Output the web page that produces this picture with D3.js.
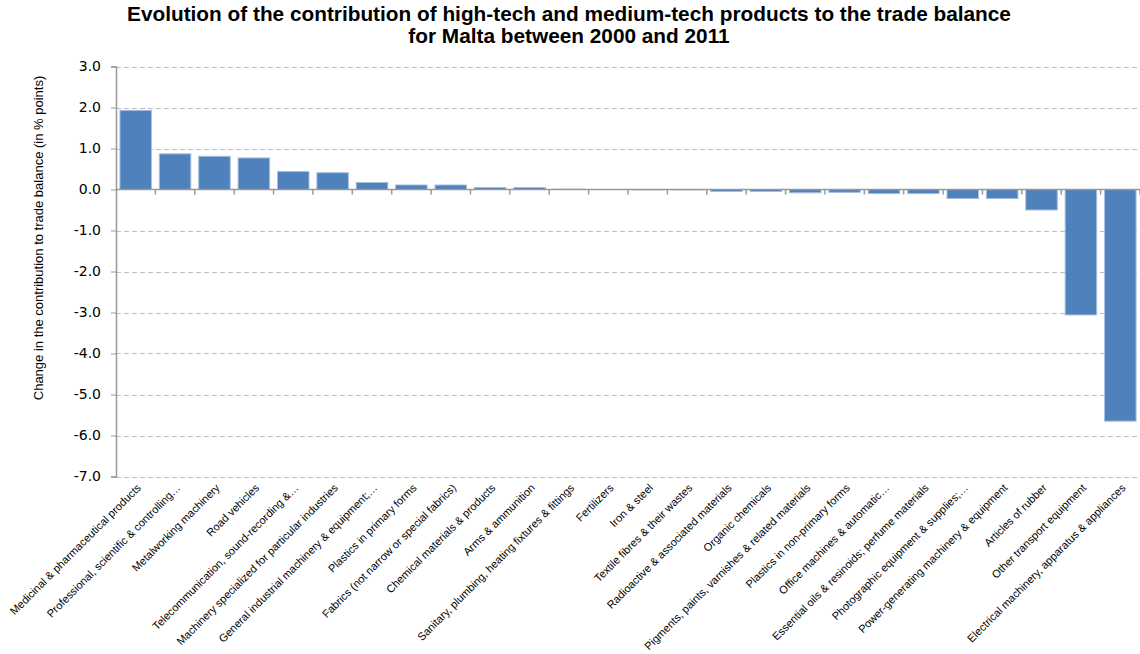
<!DOCTYPE html>
<html>
<head>
<meta charset="utf-8">
<style>
    body { margin: 0; background: #fff; }
    svg { display: block; }
</style>
</head>
<body>
<svg width="1140" height="654"></svg>

<script src="https://d3js.org/d3.v7.min.js"></script>
<script>
    // categories, in the order shown (sorted by value)
    let categories = [
        "Medicinal & pharmaceutical products",
        "Professional, scientific & controlling\u2026",
        "Metalworking machinery",
        "Road vehicles",
        "Telecommunication, sound-recording &\u2026",
        "Machinery specialized for particular industries",
        "General industrial machinery & equipment;\u2026",
        "Plastics in primary forms",
        "Fabrics (not narrow or special fabrics)",
        "Chemical materials & products",
        "Arms & ammunition",
        "Sanitary, plumbing, heating fixtures & fittings",
        "Fertilizers",
        "Iron & steel",
        "Textile fibres & their wastes",
        "Radioactive & associated materials",
        "Organic chemicals",
        "Pigments, paints, varnishes & related materials",
        "Plastics in non-primary forms",
        "Office machines & automatic\u2026",
        "Essential oils & resinoids; perfume materials",
        "Photographic equipment & supplies;\u2026",
        "Power-generating machinery & equipment",
        "Articles of rubber",
        "Other transport equipment",
        "Electrical machinery, apparatus & appliances"
    ];

    // change in contribution to trade balance (% points)
    let values = [1.93, 0.87, 0.81, 0.77, 0.44, 0.41, 0.17, 0.11, 0.11, 0.05, 0.05, 0.01,
        0.0, -0.01, -0.01, -0.05, -0.05, -0.08, -0.07, -0.10, -0.10, -0.22, -0.22, -0.50,
        -3.06, -5.65];

    let yTicks = [3, 2, 1, 0, -1, -2, -3, -4, -5, -6, -7];

    let titleLines = [
        "Evolution of the contribution of high-tech and medium-tech products to the trade balance",
        "for Malta between 2000 and 2011"
    ];

    let data = categories.map((c, i) => ({ name: c, value: values[i] }));

    let svg = d3.select("svg");

    let plotLeft = 116, plotRight = 1140, plotTop = 66.5, plotBottom = 476.5;

    let x = d3.scaleBand()
        .domain(categories)
        .range([plotLeft, plotRight])
        .paddingInner(0.2)
        .paddingOuter(0.1);

    let y = d3.scaleLinear()
        .domain([-7, 3])
        .range([plotBottom, plotTop]);

    // title
    svg.append("text")
        .attr("text-anchor", "middle")
        .style("font-family", "'Liberation Sans', Arial, sans-serif")
        .style("font-weight", "bold")
        .style("font-size", "20.8px")
        .style("fill", "#000")
        .selectAll("tspan")
        .data(titleLines)
        .join("tspan")
        .attr("x", 569)
        .attr("y", (d, i) => 21 + i * 22)
        .text(d => d);

    // dashed grid
    svg.append("g")
        .selectAll("line")
        .data(yTicks.filter(d => d !== 0))
        .join("line")
        .attr("x1", plotLeft)
        .attr("x2", plotRight)
        .attr("y1", d => Math.round(y(d)) + 0.5)
        .attr("y2", d => Math.round(y(d)) + 0.5)
        .style("stroke", "#bfbfbf")
        .style("stroke-dasharray", "5,3")
        .style("stroke-width", 1);

    // bars
    svg.append("g")
        .selectAll("rect")
        .data(data)
        .join("rect")
        .attr("x", d => x(d.name))
        .attr("width", x.bandwidth())
        .attr("y", d => y(Math.max(0, d.value)))
        .attr("height", d => Math.abs(y(d.value) - y(0)))
        .style("fill", "#4f81bd")
        .style("stroke", "#a6bfdf")
        .style("stroke-width", 1);

    // y axis
    let fmt = d3.format(".1f");
    let yAxis = d3.axisLeft(y)
        .tickValues(yTicks)
        .tickFormat(d => fmt(d).replace("\u2212", "-"))
        .tickSize(5)
        .tickPadding(10);

    let gy = svg.append("g")
        .attr("transform", `translate(${plotLeft},0)`)
        .call(yAxis);
    gy.select(".domain").style("stroke", "#999").style("stroke-width", 1.5);
    gy.selectAll(".tick line").style("stroke", "#999");
    gy.selectAll(".tick text")
        .style("font-family", "'DejaVu Sans', Verdana, sans-serif")
        .style("font-size", "14px")
        .style("fill", "#000");

    // zero line with ticks between categories
    let step = x.step();
    let zeroY = y(0);
    svg.append("line")
        .attr("x1", plotLeft)
        .attr("x2", plotRight)
        .attr("y1", zeroY)
        .attr("y2", zeroY)
        .style("stroke", "#999")
        .style("stroke-width", 1.5);

    svg.append("g")
        .selectAll("line")
        .data(d3.range(1, categories.length + 1))
        .join("line")
        .attr("x1", k => plotLeft + k * step)
        .attr("x2", k => plotLeft + k * step)
        .attr("y1", zeroY)
        .attr("y2", zeroY + 5)
        .style("stroke", "#999")
        .style("stroke-width", 1.5);

    // category labels, rotated
    svg.append("g")
        .selectAll("text")
        .data(categories)
        .join("text")
        .attr("text-anchor", "end")
        .style("font-family", "'Liberation Sans', Arial, sans-serif")
        .style("font-size", "11px")
        .style("fill", "#000")
        .attr("transform", d => `translate(${x(d) + x.bandwidth() / 2 + 6},${plotBottom + 12}) rotate(-45)`)
        .text(d => d);

    // y axis title
    svg.append("text")
        .attr("text-anchor", "middle")
        .style("font-family", "'Liberation Sans', Arial, sans-serif")
        .style("font-size", "13px")
        .style("fill", "#000")
        .attr("transform", "translate(43,238) rotate(-90)")
        .text("Change in the contribution to trade balance (in % points)");
</script>
</body>
</html>
